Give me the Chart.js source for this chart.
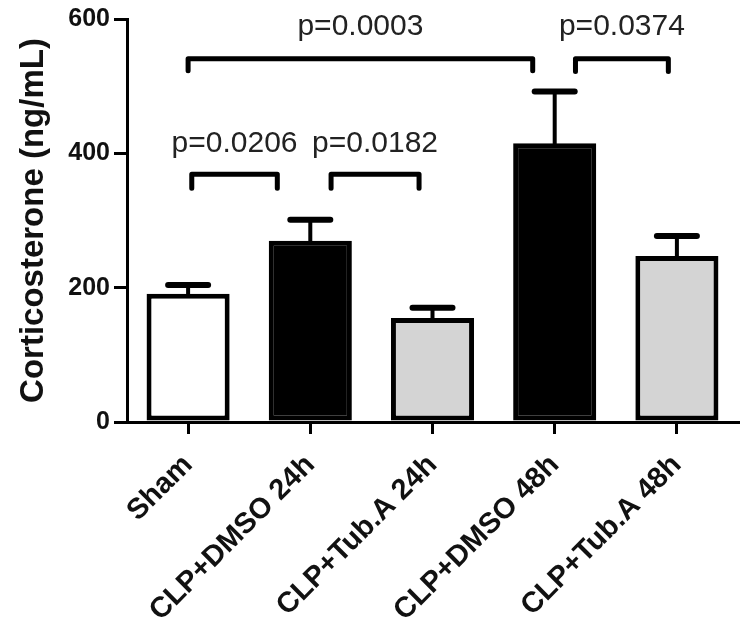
<!DOCTYPE html>
<html>
<head>
<meta charset="utf-8">
<script src="https://cdn.jsdelivr.net/npm/chart.js@4.4.1/dist/chart.umd.min.js"></script>
<style>
  html, body { margin: 0; padding: 0; background: #fff; }
  #wrap { width: 750px; height: 640px; position: relative; }
</style>
</head>
<body>
<div id="wrap"><canvas id="c" width="750" height="640"></canvas></div>
<script>
// ---- data ----
const categories = ['Sham', 'CLP+DMSO 24h', 'CLP+Tub.A 24h', 'CLP+DMSO 48h', 'CLP+Tub.A 48h'];
const means = [191, 270, 155, 415, 247];
const errors = [13, 31, 15, 77, 30];
const barColors = ['#ffffff', '#000000', '#d4d4d4', '#000000', '#d4d4d4'];
const yTicks = [0, 200, 400, 600];
const yTitle = 'Corticosterone (ng/mL)';
// significance brackets: category positions (fractional), bar level, leg end, label, label level
const bracketFrom = [0.0, 3.17, 0.03, 1.17];
const bracketTo = [2.82, 3.93, 0.73, 1.89];
const bracketLevel = [541, 541, 369, 369];
const bracketLeg = [523, 522, 348, 348];
const bracketLabels = ['p=0.0003', 'p=0.0374', 'p=0.0206', 'p=0.0182'];
const labelLevel = [588, 588, 415, 415];

const overlay = {
  id: 'overlay',
  afterDatasetsDraw(chart) {
    const ctx = chart.ctx;
    const x = chart.scales.x, y = chart.scales.y;
    const meta = chart.getDatasetMeta(0);
    ctx.save();
    ctx.strokeStyle = '#000';
    ctx.lineCap = 'round';
    // error bars
    meta.data.forEach((bar, i) => {
      const cx = bar.x;
      const top = y.getPixelForValue(means[i]);
      const cap = y.getPixelForValue(means[i] + errors[i]);
      ctx.lineWidth = 4;
      ctx.beginPath();
      ctx.moveTo(cx, top);
      ctx.lineTo(cx, cap);
      ctx.stroke();
      ctx.lineWidth = 6;
      ctx.beginPath();
      ctx.moveTo(cx - 20, cap);
      ctx.lineTo(cx + 20, cap);
      ctx.stroke();
    });
    // brackets
    ctx.lineWidth = 5;
    ctx.lineJoin = 'round';
    for (let k = 0; k < bracketLabels.length; k++) {
      const x1 = x.getPixelForValue(bracketFrom[k]);
      const x2 = x.getPixelForValue(bracketTo[k]);
      const yb = y.getPixelForValue(bracketLevel[k]);
      const yl = y.getPixelForValue(bracketLeg[k]);
      ctx.beginPath();
      ctx.moveTo(x1, yl);
      ctx.lineTo(x1, yb);
      ctx.lineTo(x2, yb);
      ctx.lineTo(x2, yl);
      ctx.stroke();
      ctx.fillStyle = '#222';
      ctx.font = '30px "Liberation Sans", Arial, sans-serif';
      ctx.textAlign = 'center';
      ctx.textBaseline = 'middle';
      ctx.fillText(bracketLabels[k], (x1 + x2) / 2, y.getPixelForValue(labelLevel[k]));
    }
    ctx.restore();
  }
};

new Chart(document.getElementById('c'), {
  type: 'bar',
  data: {
    labels: categories,
    datasets: [{
      data: means,
      backgroundColor: barColors,
      borderColor: '#000',
      borderWidth: 5,
      borderSkipped: false,
      barPercentage: 0.68,
      categoryPercentage: 1.0
    }]
  },
  options: {
    responsive: false,
    animation: false,
    layout: { padding: { top: 16, right: 12, left: 0, bottom: 0 } },
    plugins: { legend: { display: false }, tooltip: { enabled: false } },
    scales: {
      x: {
        grid: { display: true, offset: false, drawOnChartArea: false, drawTicks: true, tickLength: 12, color: '#000', lineWidth: 3 },
        border: { display: true, color: '#000', width: 3 },
        ticks: {
          color: '#111',
          font: { family: '"Liberation Sans", Arial, sans-serif', size: 29, weight: 'bold' },
          minRotation: 45, maxRotation: 45, padding: 14, autoSkip: false
        },
        afterFit(s) { s.height = 218; }
      },
      y: {
        min: 0, max: 600,
        afterBuildTicks(s) { s.ticks = yTicks.map(v => ({ value: v })); },
        grid: { display: true, drawOnChartArea: false, drawTicks: true, tickLength: 13, color: '#000', lineWidth: 3 },
        border: { display: true, color: '#000', width: 3 },
        ticks: {
          color: '#111',
          font: { family: '"Liberation Sans", Arial, sans-serif', size: 25, weight: 'bold' },
          padding: 4
        },
        title: {
          display: true, text: yTitle, color: '#111',
          font: { family: '"Liberation Sans", Arial, sans-serif', size: 33, weight: 'bold' },
          padding: { top: 14, bottom: 0 }
        },
        afterFit(s) { s.width = 127; }
      }
    }
  },
  plugins: [overlay]
});
</script>
</body>
</html>
